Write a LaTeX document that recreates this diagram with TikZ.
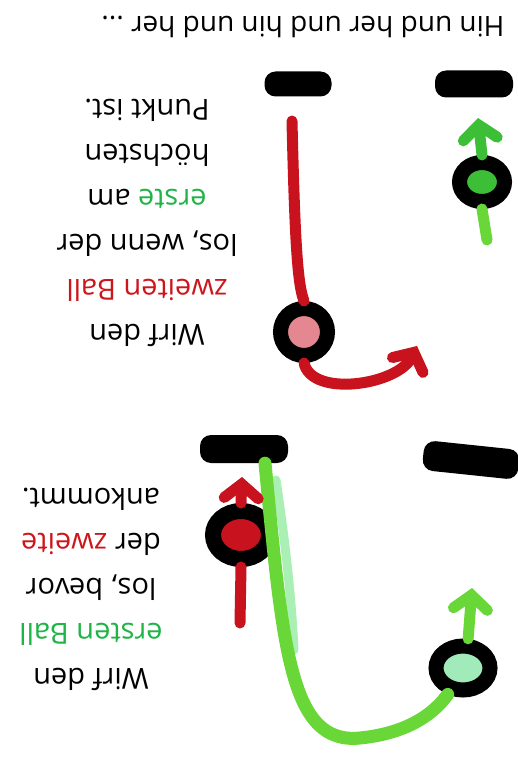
\documentclass[tikz,border=0pt]{standalone}
\usepackage{fontspec}
\setmainfont{Open Sans}
\usepackage{tikz}
\usetikzlibrary{shapes, arrows.meta}
\definecolor{redline}{RGB}{200, 18, 30}
\definecolor{redtext}{RGB}{205, 22, 28}
\definecolor{pinkfill}{RGB}{228, 135, 145}
\definecolor{greenline}{RGB}{105, 215, 55}
\definecolor{greendark}{RGB}{60, 190, 55}
\definecolor{greentext}{RGB}{30, 180, 70}
\definecolor{mint}{RGB}{160, 235, 185}
\definecolor{paleband}{RGB}{170, 240, 180}

\begin{document}
\begin{tikzpicture}[
   x=1pt, y=-1pt,
   hand/.style={rectangle, rounded corners=11pt, fill=black, inner sep=0},
   ball/.style={ellipse, draw=black, line width=15pt, inner sep=0},
   throw/.style={line width=11pt, line cap=round},
   head/.style={-{Straight Barb[length=14pt, width=34pt, line cap=round]}},
   words/.style={rotate=180, align=center, font=\fontsize{29}{45}\selectfont}
  ]

  \useasboundingbox (0, 0) rectangle (517, 757);

  % Hands
  \node (handA) at (298, 84) [hand, minimum width=67, minimum height=25] {};
  \node (handB) at (474, 84) [hand, minimum width=78, minimum height=27] {};
  \node (handC) at (244, 449) [hand, minimum width=88, minimum height=28] {};
  \node (handD) at (471, 460) [hand, rotate=-6, minimum width=96, minimum height=30] {};

  % Balls
  \node (redA) at (304, 332) [ball, fill=pinkfill, minimum size=47] {};
  \node (greenA) at (482, 182) [ball, fill=greendark, minimum width=45, minimum height=39] {};
  \node (redB) at (241, 535) [ball, line width=16pt, fill=redline, minimum width=56, minimum height=48] {};
  \node (greenB) at (463, 668) [ball, fill=mint, minimum width=54, minimum height=44] {};

  \coordinate (redtop) at (292, 121);
  \coordinate (redtip) at (417, 346);
  \coordinate (greentip) at (478, 118);
  \coordinate (greentail) at (487, 240);
  \coordinate (redtipB) at (242, 477);
  \coordinate (redtailB) at (240, 623);
  \coordinate (greentipB) at (472, 588);

  % First picture
  \draw[throw, redline] (redtop) .. controls (295, 250) and (298, 285) .. (redA.north);
  \draw[throw, redline, head] (redA.south) .. controls (312, 398) and (398, 385) .. (redtip);
  \draw[throw, greendark, head] (greenA.north) -- (greentip);
  \draw[throw, greenline] (greenA.south) -- (greentail);

  % Second picture
  \draw[line width=9pt, paleband, line cap=round] (276, 480) .. controls (288, 560) and (292, 610) .. (294, 650);
  \draw[throw, greenline, line width=13pt] ([xshift=21pt]handC.south)
    .. controls (283, 650) and (290, 745) .. (360, 738)
    .. controls (410, 733) and (435, 712) .. (greenB.-120);
  \draw[throw, greenline, head] (greenB.80) -- (greentipB);
  \draw[throw, redline, head] (redB.north) -- (redtipB);
  \draw[throw, redline] (redB.south) -- (redtailB);

  % Texts
  \node (title) at (303, 27) [words, font=\fontsize{28}{34}\selectfont] {Hin und her und hin und her ...};
  \node (tipA) at (147, 223) [words] {Wirf den\\ \textcolor{redtext}{zweiten Ball}\\
    los, wenn der\\ \textcolor{greentext}{erste} am\\ höchsten\\ Punkt ist.};
  \node (tipB) at (91, 589) [words] {Wirf den\\ \textcolor{greentext}{ersten Ball}\\
    los, bevor\\ der \textcolor{redtext}{zweite}\\ ankommt.};

\end{tikzpicture}
\end{document}
